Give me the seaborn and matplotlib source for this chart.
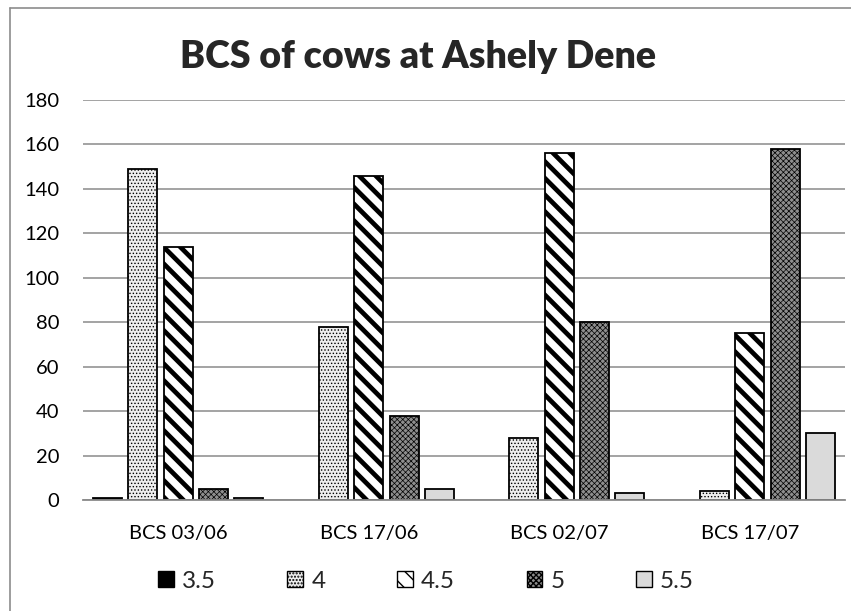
import numpy as np
import pandas as pd
import matplotlib
matplotlib.use("Agg")
import matplotlib.pyplot as plt
import matplotlib.patches as mpatches
from matplotlib.lines import Line2D
import seaborn as sns

# ---- data ----
dates = ["BCS 03/06", "BCS 17/06", "BCS 02/07", "BCS 17/07"]
scores = ["3.5", "4", "4.5", "5", "5.5"]
v_35 = [1, 0, 0, 0]
v_4 = [149, 78, 28, 4]
v_45 = [114, 146, 156, 75]
v_5 = [5, 38, 80, 158]
v_55 = [1, 5, 3, 30]
y_ticks = [0, 20, 40, 60, 80, 100, 120, 140, 160, 180]

series = {"3.5": v_35, "4": v_4, "4.5": v_45, "5": v_5, "5.5": v_55}
rows = []
for s in scores:
    for d, v in zip(dates, series[s]):
        rows.append({"date": d, "score": s, "count": v})
df = pd.DataFrame(rows)

# ---- styles ----
styles = {
    "3.5": dict(fc="black", hatch=None, hlw=1.0),
    "4": dict(fc="#eeeeee", hatch=".....", hlw=0.6),
    "4.5": dict(fc="white", hatch="\\\\", hlw=3.4),
    "5": dict(fc="#8e8e8e", hatch="xxxxxx", hlw=0.5),
    "5.5": dict(fc="#dadada", hatch=None, hlw=1.0),
}

sns.set_style("white")
plt.rcParams["font.family"] = ["Lato", "DejaVu Sans"]

W, H = 851, 611
fig = plt.figure(figsize=(W / 100, H / 100), dpi=100)
ax = fig.add_axes([83 / W, 1 - 500 / H, (845 - 83) / W, 400 / H])

sns.barplot(data=df, x="date", y="count", hue="score", order=dates,
            hue_order=scores, width=0.927, gap=0.18, ax=ax,
            edgecolor="black", linewidth=1.3, legend=False, saturation=1)

for cont, s in zip(ax.containers, scores):
    st = styles[s]
    for p in cont:
        p.set_facecolor(st["fc"])
        p.set_edgecolor("black")
        if p.get_height() == 0:
            p.set_linewidth(0)
        if st["hatch"]:
            p.set_hatch(st["hatch"])
            if hasattr(p, "set_hatch_linewidth"):
                p.set_hatch_linewidth(st["hlw"])
        p.set_zorder(3)

ax.set_ylim(0, 180)
ax.set_xlim(-0.5, 3.5)
ax.set_yticks(y_ticks)
ax.set_yticklabels([str(t) for t in y_ticks])
ax.yaxis.grid(True, color="#8a8a8a", linewidth=1.1, zorder=0)
ax.set_axisbelow(True)
for side in ["left", "right", "top"]:
    ax.spines[side].set_visible(False)
ax.spines["bottom"].set_color("#8a8a8a")
ax.spines["bottom"].set_linewidth(1.3)
ax.spines["bottom"].set_zorder(4)
ax.tick_params(axis="both", length=0, labelsize=14.5, labelcolor="black")
ax.tick_params(axis="y", pad=17)
ax.tick_params(axis="x", pad=18)
ax.set_xlabel("")
ax.set_ylabel("")

fig.text(418 / W, 1 - 57 / H, "BCS of cows at Ashely Dene", ha="center",
         va="center", fontsize=27, fontweight="heavy")

handles = []
for s in scores:
    st = styles[s]
    h = mpatches.Patch(facecolor=st["fc"], edgecolor="black", linewidth=1.0,
                       hatch=st["hatch"], label=s)
    if st["hatch"] and hasattr(h, "set_hatch_linewidth"):
        h.set_hatch_linewidth(min(st["hlw"], 2.5))
    handles.append(h)
fig.legend(handles=handles, loc="center", bbox_to_anchor=(426 / W, 1 - 581 / H),
           ncol=5, frameon=False, fontsize=17.5, handlelength=0.65,
           handleheight=0.65, handletextpad=0.33, columnspacing=2.95,
           borderaxespad=0, borderpad=0)

# outer chart frame (left and top edges visible)
fig.add_artist(Line2D([10 / W, 10 / W], [0, 1 - 8 / H], transform=fig.transFigure,
                      color="#8c8c8c", linewidth=1.2))
fig.add_artist(Line2D([10 / W, 1], [1 - 8 / H, 1 - 8 / H], transform=fig.transFigure,
                      color="#8c8c8c", linewidth=1.2))

fig.savefig("out.png", dpi=100, facecolor="white")
